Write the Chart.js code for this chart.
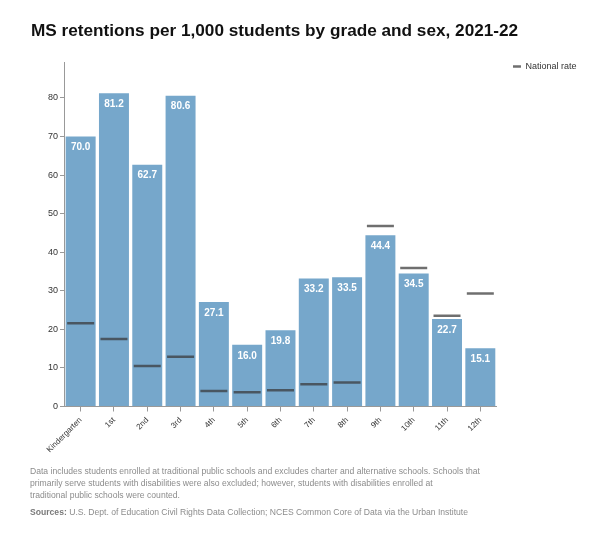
<!DOCTYPE html>
<html><head><meta charset="utf-8">
<script src="https://cdn.jsdelivr.net/npm/chart.js@4"></script>
<style>
html,body{margin:0;padding:0;background:#fff;}
body{width:600px;height:540px;position:relative;overflow:hidden;font-family:"Liberation Sans",Arial,Helvetica,sans-serif;}
#title{position:absolute;left:31px;top:19px;font-size:17.2px;line-height:22px;font-weight:bold;color:#111;white-space:nowrap;margin:0;}
#wrap{position:absolute;left:0;top:0;width:600px;height:540px;}
#notes{position:absolute;left:30px;top:465px;font-size:8.6px;line-height:12px;color:#8c8c8c;white-space:nowrap;}
#src{position:absolute;left:30px;top:506px;font-size:8.6px;line-height:12px;color:#8c8c8c;white-space:nowrap;}
#src b{color:#7a7a7a;}
</style></head>
<body>
<div id="wrap"><canvas id="c" width="600" height="540"></canvas></div>
<h1 id="title">MS retentions per 1,000 students by grade and sex, 2021-22</h1>
<div id="notes">Data includes students enrolled at traditional public schools and excludes charter and alternative schools. Schools that<br>primarily serve students with disabilities were also excluded; however, students with disabilities enrolled at<br>traditional public schools were counted.</div>
<div id="src"><b>Sources:</b> U.S. Dept. of Education Civil Rights Data Collection; NCES Common Core of Data via the Urban Institute</div>
<script>
const grades = ['Kindergarten','1st','2nd','3rd','4th','5th','6th','7th','8th','9th','10th','11th','12th'];
const msRates = [70.0,81.2,62.7,80.6,27.1,16.0,19.8,33.2,33.5,44.4,34.5,22.7,15.1];
const nationalRates = [21.6,17.5,10.5,12.9,4.0,3.7,4.2,5.8,6.2,46.8,35.9,23.5,29.3];
const yTicks = [0,10,20,30,40,50,60,70,80];
const yMax = 89.32;

const FONT = '"Liberation Sans", Arial, Helvetica, sans-serif';

const barLabels = {
  id: 'barLabels',
  afterDatasetsDraw(chart) {
    const meta = chart.getDatasetMeta(0);
    const ctx = chart.ctx;
    ctx.save();
    ctx.font = 'bold 10px ' + FONT;
    ctx.fillStyle = '#ffffff';
    ctx.textAlign = 'center';
    ctx.textBaseline = 'middle';
    meta.data.forEach((bar, i) => {
      ctx.fillText(msRates[i].toFixed(1), bar.x, bar.y + 11);
    });
    ctx.restore();
  }
};

new Chart(document.getElementById('c'), {
  data: {
    labels: grades,
    datasets: [
      {
        type: 'bar',
        label: 'MS rate',
        data: msRates,
        backgroundColor: '#76a7cb',
        borderWidth: 0,
        barPercentage: 0.9,
        categoryPercentage: 1.0,
        order: 2,
        yAxisID: 'y'
      },
      {
        type: 'line',
        label: 'National rate',
        data: nationalRates,
        showLine: false,
        pointStyle: 'line',
        pointRadius: 13.5,
        pointHoverRadius: 13.5,
        pointBorderWidth: 2.5,
        pointHoverBorderWidth: 2.5,
        borderColor: 'rgba(55,55,55,0.72)',
        backgroundColor: 'rgba(55,55,55,0.72)',
        borderWidth: 2,
        order: 1,
        yAxisID: 'y'
      }
    ]
  },
  options: {
    responsive: false,
    animation: false,
    devicePixelRatio: 1,
    layout: { padding: { left: 0, top: 62, right: 13.5, bottom: 80 } },
    plugins: {
      legend: {
        position: 'right',
        align: 'start',
        labels: {
          usePointStyle: true,
          pointStyleWidth: 8,
          boxHeight: 9,
          padding: 0,
          color: '#333',
          font: { family: FONT, size: 9 },
          filter: item => item.text === 'National rate'
        }
      },
      tooltip: { enabled: false }
    },
    scales: {
      x: {
        type: 'category',
        offset: true,
        grid: { display: true, drawOnChartArea: false, drawTicks: true, tickLength: 5, color: '#999', offset: false },
        border: { display: true, color: '#999', width: 1 },
        ticks: { minRotation: 45, maxRotation: 45, padding: 4, color: '#333', font: { family: FONT, size: 8 }, autoSkip: false },
        afterFit: s => { s.height = 53.5; }
      },
      y: {
        type: 'linear',
        position: 'left',
        min: 0,
        max: yMax,
        afterBuildTicks: s => { s.ticks = yTicks.map(v => ({ value: v })); },
        grid: { display: true, drawOnChartArea: false, drawTicks: true, tickLength: 4, color: '#999' },
        border: { display: true, color: '#999', width: 1 },
        ticks: { padding: 2, color: '#333', font: { family: FONT, size: 9 }, includeBounds: false },
        afterFit: s => { s.width = 64; }
      },
      gap: {
        type: 'linear',
        position: 'right',
        display: true,
        grid: { display: false, drawTicks: false },
        border: { display: false },
        ticks: { display: false },
        afterFit: s => { s.width = 16; }
      }
    }
  },
  plugins: [barLabels]
});
</script>
</body></html>
